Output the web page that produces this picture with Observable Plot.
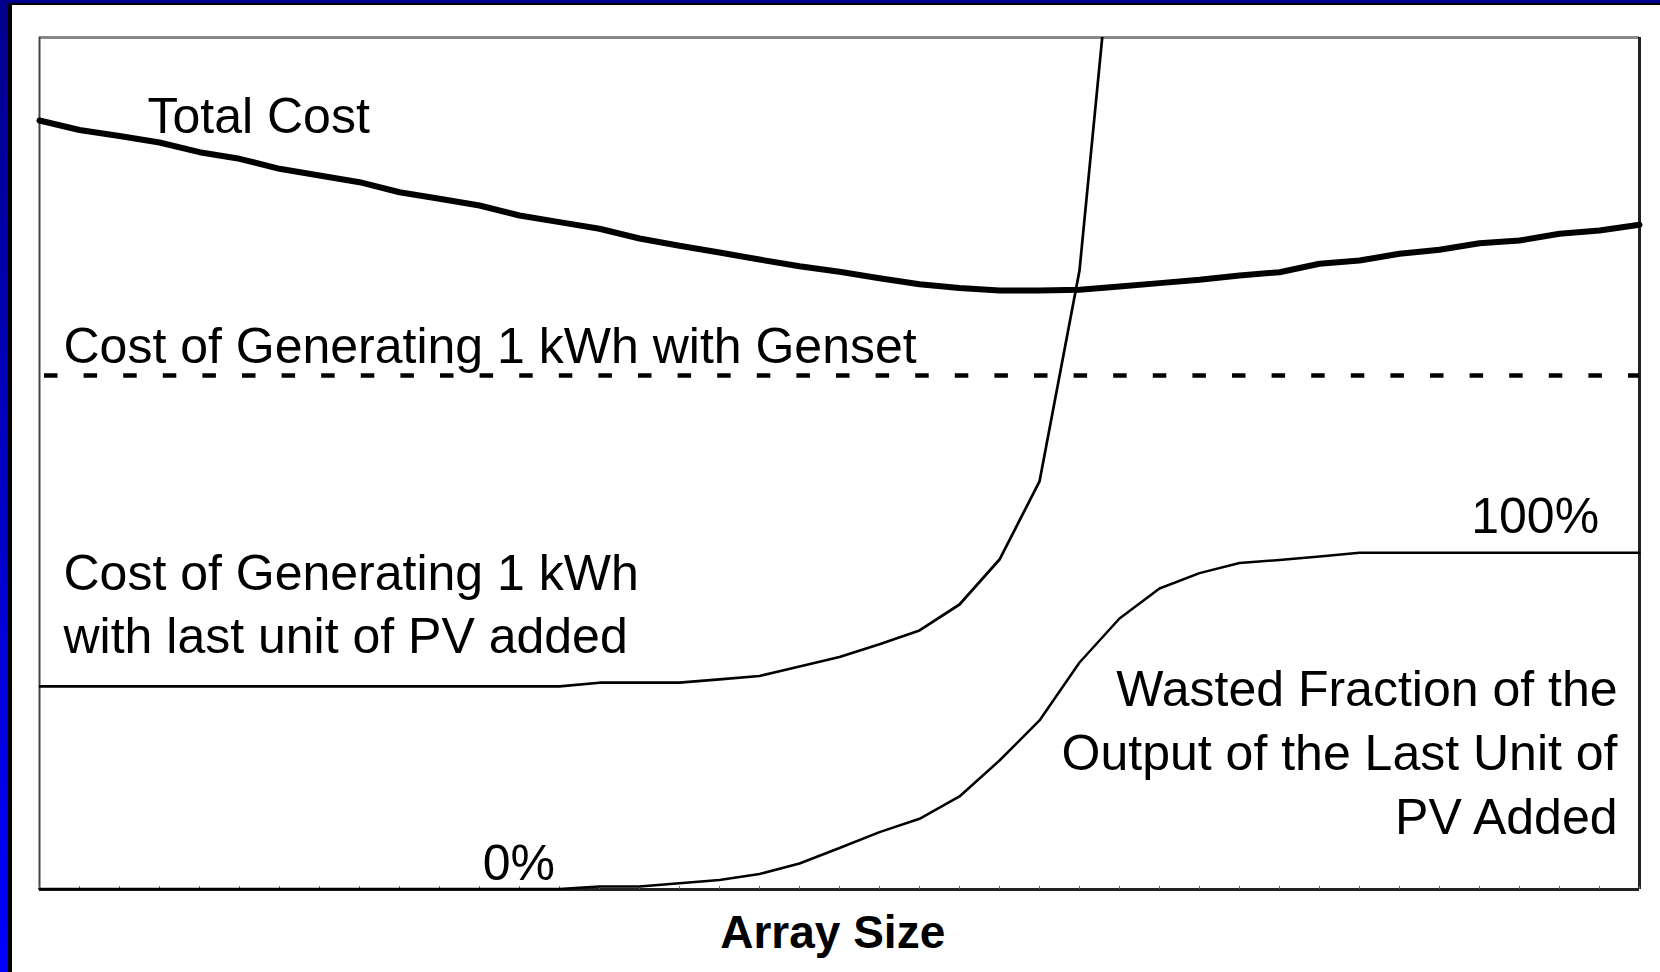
<!DOCTYPE html>
<html>
<head>
<meta charset="utf-8">
<script src="https://cdn.jsdelivr.net/npm/d3@7"></script>
<script src="https://cdn.jsdelivr.net/npm/@observablehq/plot@0.6"></script>
<style>
  html, body { margin: 0; padding: 0; background: #fff; width: 1660px; height: 972px; overflow: hidden; }
  #chart { position: absolute; left: 0; top: 0; }
  .bl { position: absolute; left: 0; top: 0; width: 8px; height: 972px; background: linear-gradient(#00008c, #0000ff); z-index: 3; }
  .bl2 { position: absolute; left: 8px; top: 3px; width: 4px; height: 969px; background: #000; z-index: 3; }
  .bt { position: absolute; left: 0; top: 0; width: 1660px; height: 3px; background: #00008c; z-index: 3; }
  .bt2 { position: absolute; left: 8px; top: 3px; width: 1652px; height: 2px; background: #000; z-index: 3; }
</style>
</head>
<body>
<div id="chart"></div>
<div class="bl"></div><div class="bl2"></div><div class="bt"></div><div class="bt2"></div>
<script>
// Array size steps (0..40) along the horizontal axis
const arraySize = d3.range(0, 41);

// Total cost (relative height, 0 = bottom of frame, 100 = top)
const totalCost = [90.26, 89.14, 88.44, 87.68, 86.54, 85.76, 84.59, 83.80, 83.02, 81.84,
  81.07, 80.28, 79.11, 78.33, 77.55, 76.41, 75.55, 74.77, 73.94, 73.16,
  72.50, 71.75, 71.04, 70.60, 70.31, 70.31, 70.39, 70.77, 71.17, 71.56,
  72.07, 72.45, 73.44, 73.83, 74.61, 75.08, 75.86, 76.17, 76.96, 77.35, 78.02];

// Cost of generating 1 kWh with genset (constant)
const gensetCost = 60.33;

// Cost of generating 1 kWh with last unit of PV added (leaves the frame after step 26)
const pvCost = [23.83, 23.83, 23.83, 23.83, 23.83, 23.83, 23.83, 23.83, 23.83, 23.83,
  23.83, 23.83, 23.83, 23.83, 24.27, 24.27, 24.27, 24.67, 25.06, 26.17,
  27.29, 28.79, 30.40, 33.45, 38.73, 47.89, 72.65, 120.77];

// Wasted fraction of the output of the last unit of PV added
const wasted = [0.05, 0.05, 0.05, 0.05, 0.05, 0.05, 0.05, 0.05, 0.05, 0.05,
  0.05, 0.05, 0.05, 0.05, 0.35, 0.35, 0.72, 1.12, 1.82, 3.05,
  4.87, 6.73, 8.30, 10.92, 15.14, 19.84, 26.64, 31.81, 35.33, 37.13,
  38.32, 38.67, 39.08, 39.52, 39.52, 39.52, 39.52, 39.52, 39.52, 39.52, 39.52];

// Annotation texts
const labelTotal = "Total Cost";
const labelGenset = "Cost of Generating 1 kWh with Genset";
const labelPV = "Cost of Generating 1 kWh\nwith last unit of PV added";
const label100 = "100%";
const label0 = "0%";
const labelWasted = "Wasted Fraction of the\nOutput of the Last Unit of\nPV Added";
const xTitle = "Array Size";

const totalData = arraySize.map((x, i) => ({x, y: totalCost[i]}));
const pvData = pvCost.map((y, i) => ({x: arraySize[i], y}));
const wastedData = arraySize.map((x, i) => ({x, y: wasted[i]}));

const font = "'Liberation Sans', Arial, Helvetica, sans-serif";

const chart = Plot.plot({
  width: 1660,
  height: 972,
  marginLeft: 39,
  marginRight: 21,
  marginTop: 37,
  marginBottom: 83,
  x: {domain: [0, 40], axis: null},
  y: {domain: [0, 100], axis: null},
  style: {fontFamily: font, background: "transparent", color: "#000"},
  marks: [
    // frame edges
    Plot.ruleY([100], {stroke: "#888", strokeWidth: 3}),
    Plot.ruleX([0], {stroke: "#444", strokeWidth: 2}),
    Plot.ruleX([40], {stroke: "#222", strokeWidth: 3}),
    Plot.ruleY([0], {stroke: "#222", strokeWidth: 3}),
    Plot.ruleX(arraySize, {y1: 0, y2: 0.35, stroke: "#666", strokeWidth: 1}),
    // genset cost
    Plot.ruleY([gensetCost], {stroke: "#000", strokeWidth: 4.5, strokeDasharray: "13.5,26.1", strokeDashoffset: 34.6}),
    // curves
    Plot.line(totalData, {x: "x", y: "y", stroke: "#000", strokeWidth: 6, strokeLinejoin: "round"}),
    Plot.line(pvData, {x: "x", y: "y", stroke: "#000", strokeWidth: 2.7, clip: true}),
    Plot.line(wastedData, {x: "x", y: "y", stroke: "#000", strokeWidth: 2.5}),
    // labels
    Plot.text([labelTotal], {x: 2.7, y: 88.79, text: d => d, textAnchor: "start", lineAnchor: "bottom", fontSize: 50}),
    Plot.text([labelGenset], {x: 0.6, y: 61.80, text: d => d, textAnchor: "start", lineAnchor: "bottom", fontSize: 50}),
    Plot.text([labelPV], {x: 0.6, y: 27.70, text: d => d, textAnchor: "start", lineAnchor: "bottom", fontSize: 50, lineHeight: 1.26}),
    Plot.text([label100], {x: 38.99, y: 41.84, text: d => d, textAnchor: "end", lineAnchor: "bottom", fontSize: 50}),
    Plot.text([label0], {x: 11.08, y: 1.17, text: d => d, textAnchor: "start", lineAnchor: "bottom", fontSize: 50}),
    Plot.text([labelWasted], {x: 39.45, y: 6.46, text: d => d, textAnchor: "end", lineAnchor: "bottom", fontSize: 50, lineHeight: 1.28}),
    Plot.text([xTitle], {x: 19.83, y: -6.87, text: d => d, textAnchor: "middle", lineAnchor: "bottom", fontSize: 46, fontWeight: "bold"})
  ]
});
document.getElementById("chart").appendChild(chart);
</script>
</body>
</html>
